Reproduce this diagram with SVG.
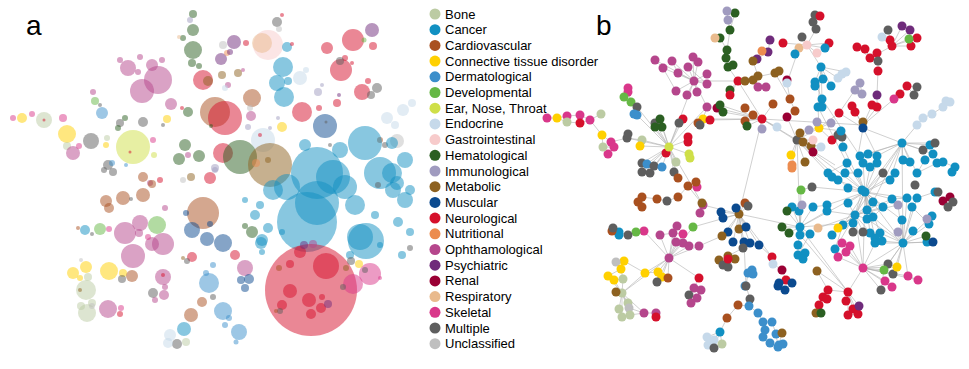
<svg xmlns="http://www.w3.org/2000/svg" width="969" height="369" viewBox="0 0 969 369">
<style>
.bo{fill:#bccba3}.ca{fill:#1190c2}.cv{fill:#a9501f}.ct{fill:#ffd000}.de{fill:#3c8fcb}.dv{fill:#66b845}.en{fill:#cfdf48}.ed{fill:#c6d9ea}.gi{fill:#f7cbcb}.he{fill:#2b5f22}.im{fill:#a09bbf}.me{fill:#8d6120}.mu{fill:#0b4a8f}.ne{fill:#d5102b}.nu{fill:#ec8c4f}.op{fill:#b5468c}.ps{fill:#6f2b7b}.re{fill:#9a0034}.rs{fill:#e9ba8d}.sk{fill:#d9378a}.mp{fill:#5e5e5e}.un{fill:#bfbfbf}
#panel-a circle{fill-opacity:.5}
.lbl{font-family:"Liberation Sans",Arial,sans-serif;font-size:28px;fill:#000}
.lg{font-family:"Liberation Sans",Arial,sans-serif;font-size:13px;fill:#000}
#connectors path{fill:none;stroke:#b0b0b0;stroke-width:.6}
</style>
<rect width="969" height="369" fill="#fff"/>
<text class="lbl" x="26" y="35">a</text>
<text class="lbl" x="596" y="35">b</text>

<g id="panel-a">
<circle class="he" cx="193" cy="14" r="4"/><circle class="im" cx="190" cy="20" r="3"/><circle class="he" cx="193" cy="30" r="6"/><circle class="he" cx="193" cy="50" r="9"/><circle class="he" cx="192" cy="63" r="4"/><circle class="he" cx="199" cy="66" r="3"/><circle class="he" cx="183" cy="38" r="3"/><circle class="rs" cx="179" cy="37" r="2"/>
<circle class="ne" cx="203" cy="80" r="10"/><circle class="me" cx="208" cy="81" r="5"/>
<circle class="op" cx="128" cy="68" r="8"/><circle class="op" cx="158" cy="80" r="14"/><circle class="op" cx="142" cy="91" r="12"/><circle class="op" cx="152" cy="65" r="6"/><circle class="op" cx="120" cy="60" r="3"/><circle class="op" cx="140" cy="57" r="3"/><circle class="op" cx="162" cy="60" r="3"/><circle class="op" cx="138" cy="72" r="3"/><circle class="op" cx="171" cy="104" r="6"/><circle class="ne" cx="182" cy="108" r="2"/><circle class="he" cx="188" cy="112" r="5"/>
<circle class="sk" cx="13" cy="118" r="3"/><circle class="ct" cx="22" cy="118" r="5"/><circle class="sk" cx="32" cy="114" r="3"/><circle class="bo" cx="44" cy="120" r="8"/><circle class="ne" cx="44" cy="120" r="1.5"/><circle class="sk" cx="63" cy="118" r="4"/><circle class="ct" cx="67" cy="134" r="9"/><circle class="bo" cx="67" cy="146" r="4"/><circle class="op" cx="73" cy="153" r="7"/><circle class="sk" cx="79" cy="146" r="3"/><circle class="mp" cx="91" cy="141" r="8"/><circle class="bo" cx="107" cy="138" r="3"/><circle class="ct" cx="106" cy="145" r="3"/><circle class="en" cx="133" cy="147" r="17"/><circle class="ne" cx="130" cy="152" r="1.5"/><circle class="sk" cx="153" cy="140" r="3"/><circle class="en" cx="154" cy="155" r="3"/>
<circle class="de" cx="102" cy="113" r="6"/><circle class="dv" cx="95" cy="101" r="4"/><circle class="op" cx="93" cy="92" r="3"/><circle class="mp" cx="100" cy="105" r="2"/>
<circle class="mp" cx="143" cy="122" r="5"/><circle class="mp" cx="120" cy="123" r="4"/><circle class="he" cx="125" cy="118" r="3"/><circle class="he" cx="118" cy="128" r="3"/><circle class="ct" cx="167" cy="119" r="4"/><circle class="mp" cx="163" cy="125" r="2"/>
<circle class="he" cx="185" cy="145" r="6"/><circle class="he" cx="179" cy="159" r="6"/><circle class="he" cx="199" cy="156" r="6"/><circle class="op" cx="188" cy="155" r="3"/>
<circle class="mp" cx="108" cy="165" r="5"/><circle class="mp" cx="113" cy="172" r="4"/><circle class="mp" cx="104" cy="170" r="3"/><circle class="de" cx="112" cy="163" r="3"/><circle class="de" cx="126" cy="165" r="2"/>
<circle class="cv" cx="143" cy="177" r="5"/><circle class="op" cx="150" cy="183" r="3"/><circle class="ne" cx="160" cy="180" r="3"/>
<circle class="me" cx="191" cy="177" r="4"/><circle class="un" cx="183" cy="180" r="3"/><circle class="ne" cx="210" cy="178" r="6"/><circle class="im" cx="215" cy="170" r="3"/>
<circle class="mp" cx="277" cy="22" r="5"/><circle class="ne" cx="282" cy="15" r="2"/><circle class="un" cx="279" cy="29" r="3"/><circle class="ps" cx="234" cy="42" r="7"/><circle class="ps" cx="221" cy="59" r="6"/><circle class="nu" cx="227" cy="53" r="3"/><circle class="un" cx="223" cy="45" r="4"/><circle class="ps" cx="230" cy="52" r="3"/><circle class="ne" cx="246" cy="43" r="3"/>
<circle class="gi" cx="268" cy="45" r="15"/><circle class="rs" cx="262" cy="43" r="10"/><circle class="ca" cx="287" cy="47" r="5"/><circle class="ne" cx="292" cy="44" r="2"/>
<circle class="ca" cx="283" cy="67" r="10"/><circle class="ca" cx="277" cy="83" r="8"/><circle class="ca" cx="284" cy="97" r="10"/><circle class="ca" cx="288" cy="81" r="4"/><circle class="ed" cx="300" cy="78" r="7"/><circle class="ed" cx="306" cy="70" r="3"/>
<circle class="ne" cx="327" cy="48" r="6"/><circle class="ne" cx="353" cy="40" r="11"/><circle class="ne" cx="373" cy="46" r="4"/><circle class="ps" cx="372" cy="30" r="7"/><circle class="dv" cx="364" cy="40" r="2.5"/><circle class="ne" cx="345" cy="58" r="3"/><circle class="ne" cx="352" cy="63" r="2"/>
<circle class="ne" cx="341" cy="70" r="11"/><circle class="mp" cx="340" cy="61" r="4"/>
<circle class="ne" cx="362" cy="92" r="8"/><circle class="mp" cx="377" cy="88" r="5"/><circle class="mp" cx="371" cy="95" r="4"/><circle class="ne" cx="368" cy="81" r="3"/>
<circle class="im" cx="318" cy="92" r="4"/><circle class="im" cx="322" cy="85" r="2"/><circle class="ne" cx="337" cy="103" r="4"/><circle class="ps" cx="339" cy="95" r="2"/>
<circle class="ne" cx="302" cy="112" r="10"/><circle class="ne" cx="319" cy="108" r="3"/>
<circle class="mu" cx="325" cy="126" r="12"/><circle class="mp" cx="326" cy="122" r="1.5"/>
<circle class="cv" cx="252" cy="98" r="9"/><circle class="op" cx="251" cy="116" r="5"/><circle class="me" cx="222" cy="75" r="4"/><circle class="me" cx="238" cy="73" r="4"/><circle class="op" cx="243" cy="70" r="2"/><circle class="op" cx="228" cy="85" r="3"/><circle class="ed" cx="225" cy="88" r="3"/>
<circle class="ct" cx="282" cy="127" r="5"/><circle class="im" cx="278" cy="118" r="2"/><circle class="im" cx="270" cy="128" r="2"/><circle class="un" cx="250" cy="108" r="3"/><circle class="im" cx="248" cy="127" r="3"/>
<circle class="ed" cx="387" cy="118" r="6"/><circle class="ed" cx="403" cy="110" r="6"/><circle class="ed" cx="412" cy="103" r="4"/><circle class="ed" cx="395" cy="125" r="4"/><circle class="un" cx="397" cy="141" r="7"/><circle class="cv" cx="380" cy="140" r="3"/><circle class="mp" cx="385" cy="145" r="3"/>
<circle class="cv" cx="215" cy="112" r="15"/><circle class="ne" cx="225" cy="118" r="17"/><circle class="he" cx="211" cy="126" r="2"/>
<circle class="ne" cx="223" cy="153" r="10"/><circle class="im" cx="215" cy="168" r="4"/>
<circle class="ed" cx="263" cy="140" r="12"/><circle class="ne" cx="260" cy="135" r="2"/>
<circle class="he" cx="240" cy="157" r="17"/><circle class="me" cx="270" cy="165" r="22"/><circle class="nu" cx="256" cy="163" r="4"/><circle class="me" cx="268" cy="160" r="3"/>
<circle class="ca" cx="365" cy="143" r="17"/><circle class="ca" cx="380" cy="173" r="16"/><circle class="ca" cx="317" cy="173" r="26"/><circle class="ca" cx="333" cy="177" r="17"/><circle class="ca" cx="307" cy="222" r="30"/><circle class="ca" cx="317" cy="203" r="22"/><circle class="ca" cx="273" cy="190" r="10"/><circle class="ca" cx="287" cy="187" r="13"/><circle class="ca" cx="397" cy="183" r="7"/><circle class="ca" cx="392" cy="173" r="10"/><circle class="ca" cx="360" cy="237" r="13"/><circle class="ca" cx="405" cy="160" r="8"/><circle class="ca" cx="305" cy="145" r="6"/><circle class="ca" cx="345" cy="187" r="12"/><circle class="ca" cx="393" cy="190" r="8"/><circle class="ca" cx="366" cy="241" r="18"/><circle class="ca" cx="392" cy="143" r="6"/><circle class="ca" cx="405" cy="200" r="8"/><circle class="ca" cx="410" cy="190" r="5"/><circle class="ca" cx="340" cy="150" r="8"/><circle class="ca" cx="355" cy="205" r="10"/>
<circle class="ca" cx="260" cy="205" r="4"/><circle class="ca" cx="255" cy="215" r="5"/><circle class="ca" cx="262" cy="240" r="6"/><circle class="ca" cx="268" cy="228" r="5"/><circle class="ca" cx="245" cy="200" r="3"/><circle class="ca" cx="282" cy="232" r="3"/><circle class="ca" cx="350" cy="255" r="4"/><circle class="ca" cx="375" cy="215" r="4"/><circle class="ca" cx="398" cy="222" r="5"/><circle class="ca" cx="410" cy="232" r="4"/><circle class="ca" cx="380" cy="245" r="3"/><circle class="ca" cx="402" cy="255" r="4"/><circle class="mp" cx="410" cy="248" r="3"/><circle class="mp" cx="378" cy="185" r="3"/><circle class="mp" cx="330" cy="145" r="2"/>
<circle class="ne" cx="311" cy="290" r="46"/><circle class="ne" cx="326" cy="266" r="13"/><circle class="ne" cx="300" cy="252" r="6"/><circle class="ne" cx="290" cy="264" r="4"/><circle class="ps" cx="304" cy="245" r="4"/><circle class="op" cx="313" cy="244" r="4"/><circle class="ne" cx="290" cy="291" r="7"/><circle class="ne" cx="282" cy="305" r="5"/><circle class="ne" cx="309" cy="300" r="7"/><circle class="ne" cx="321" cy="308" r="5"/><circle class="ne" cx="311" cy="314" r="5"/><circle class="ne" cx="322" cy="297" r="3"/><circle class="mp" cx="280" cy="311" r="3"/><circle class="cv" cx="276" cy="311" r="2"/><circle class="ps" cx="328" cy="304" r="4"/><circle class="cv" cx="279" cy="268" r="3"/>
<circle class="sk" cx="370" cy="274" r="11"/><circle class="sk" cx="353" cy="284" r="10"/><circle class="mp" cx="351" cy="261" r="4"/><circle class="me" cx="346" cy="268" r="3"/><circle class="ct" cx="359" cy="264" r="4"/><circle class="mp" cx="365" cy="270" r="3"/><circle class="mp" cx="343" cy="287" r="3"/><circle class="sk" cx="380" cy="278" r="2"/>
<circle class="de" cx="209" cy="283" r="10"/><circle class="de" cx="223" cy="311" r="9"/><circle class="de" cx="239" cy="332" r="8"/><circle class="de" cx="213" cy="265" r="3"/><circle class="de" cx="206" cy="273" r="3"/><circle class="de" cx="229" cy="318" r="3"/><circle class="de" cx="236" cy="342" r="2.5"/><circle class="mp" cx="213" cy="297" r="3"/><circle class="de" cx="225" cy="325" r="3"/>
<circle class="mu" cx="223" cy="243" r="9"/><circle class="op" cx="245" cy="268" r="8"/><circle class="ne" cx="235" cy="255" r="5"/><circle class="he" cx="252" cy="232" r="6"/><circle class="ca" cx="261" cy="243" r="6"/><circle class="mu" cx="241" cy="280" r="4"/><circle class="mu" cx="249" cy="279" r="5"/><circle class="mu" cx="245" cy="288" r="4"/><circle class="he" cx="245" cy="226" r="3"/><circle class="ca" cx="262" cy="252" r="3"/>
<circle class="cv" cx="123" cy="198" r="7"/><circle class="cv" cx="143" cy="195" r="7"/><circle class="cv" cx="106" cy="201" r="6"/><circle class="cv" cx="152" cy="184" r="4"/><circle class="cv" cx="109" cy="208" r="5"/><circle class="mp" cx="131" cy="199" r="2"/>
<circle class="cv" cx="203" cy="213" r="16"/><circle class="mu" cx="192" cy="230" r="8"/><circle class="mu" cx="207" cy="239" r="7"/><circle class="mu" cx="186" cy="213" r="3"/><circle class="mu" cx="210" cy="224" r="3"/>
<circle class="op" cx="125" cy="233" r="11"/><circle class="op" cx="140" cy="223" r="8"/><circle class="dv" cx="157" cy="225" r="9"/><circle class="op" cx="133" cy="256" r="12"/><circle class="op" cx="163" cy="244" r="11"/><circle class="op" cx="152" cy="244" r="7"/><circle class="op" cx="139" cy="233" r="4"/><circle class="sk" cx="148" cy="237" r="3"/><circle class="op" cx="165" cy="208" r="3"/>
<circle class="ca" cx="85" cy="230" r="5"/><circle class="dv" cx="100" cy="229" r="6"/><circle class="sk" cx="109" cy="229" r="3"/><circle class="cv" cx="78" cy="228" r="2"/><circle class="mp" cx="92" cy="234" r="2"/>
<circle class="ct" cx="86" cy="267" r="6"/><circle class="ct" cx="73" cy="273" r="6"/><circle class="ct" cx="109" cy="271" r="9"/><circle class="un" cx="81" cy="260" r="2"/><circle class="ct" cx="80" cy="278" r="3"/><circle class="ct" cx="123" cy="273" r="4"/><circle class="mp" cx="122" cy="279" r="4"/><circle class="cv" cx="132" cy="276" r="6"/>
<circle class="bo" cx="86" cy="290" r="10"/><circle class="bo" cx="87" cy="313" r="9"/><circle class="bo" cx="81" cy="306" r="4"/><circle class="bo" cx="92" cy="303" r="4"/><circle class="un" cx="92" cy="306" r="3"/><circle class="me" cx="80" cy="290" r="2"/><circle class="bo" cx="88" cy="277" r="4"/>
<circle class="op" cx="108" cy="309" r="9"/><circle class="ne" cx="120" cy="314" r="3"/><circle class="sk" cx="121" cy="308" r="3"/>
<circle class="op" cx="163" cy="277" r="8"/><circle class="op" cx="164" cy="295" r="5"/><circle class="mp" cx="153" cy="293" r="5"/><circle class="op" cx="155" cy="300" r="3"/><circle class="ne" cx="163" cy="275" r="2"/><circle class="op" cx="165" cy="287" r="3"/>
<circle class="ne" cx="192" cy="257" r="5"/><circle class="mp" cx="187" cy="261" r="3"/><circle class="me" cx="183" cy="258" r="2"/>
<circle class="cv" cx="191" cy="315" r="7"/><circle class="cv" cx="202" cy="302" r="5"/>
<circle class="ca" cx="184" cy="329" r="7"/><circle class="ed" cx="170" cy="335" r="6"/><circle class="mp" cx="177" cy="344" r="5"/><circle class="ed" cx="168" cy="343" r="5"/><circle class="bo" cx="186" cy="342" r="4"/>
</g>

<g id="legend">
<circle class="bo" cx="435" cy="14" r="5.5"/><text class="lg" x="445" y="18.5">Bone</text>
<circle class="ca" cx="435" cy="29.7" r="5.5"/><text class="lg" x="445" y="34.2">Cancer</text>
<circle class="cv" cx="435" cy="45.4" r="5.5"/><text class="lg" x="445" y="49.9">Cardiovascular</text>
<circle class="ct" cx="435" cy="61.1" r="5.5"/><text class="lg" x="445" y="65.6">Connective tissue disorder</text>
<circle class="de" cx="435" cy="76.8" r="5.5"/><text class="lg" x="445" y="81.3">Dermatological</text>
<circle class="dv" cx="435" cy="92.5" r="5.5"/><text class="lg" x="445" y="97">Developmental</text>
<circle class="en" cx="435" cy="108.2" r="5.5"/><text class="lg" x="445" y="112.7">Ear, Nose, Throat</text>
<circle class="ed" cx="435" cy="123.9" r="5.5"/><text class="lg" x="445" y="128.4">Endocrine</text>
<circle class="gi" cx="435" cy="139.6" r="5.5"/><text class="lg" x="445" y="144.1">Gastrointestinal</text>
<circle class="he" cx="435" cy="155.3" r="5.5"/><text class="lg" x="445" y="159.8">Hematological</text>
<circle class="im" cx="435" cy="171" r="5.5"/><text class="lg" x="445" y="175.5">Immunological</text>
<circle class="me" cx="435" cy="186.7" r="5.5"/><text class="lg" x="445" y="191.2">Metabolic</text>
<circle class="mu" cx="435" cy="202.4" r="5.5"/><text class="lg" x="445" y="206.9">Muscular</text>
<circle class="ne" cx="435" cy="218.1" r="5.5"/><text class="lg" x="445" y="222.6">Neurological</text>
<circle class="nu" cx="435" cy="233.8" r="5.5"/><text class="lg" x="445" y="238.3">Nutritional</text>
<circle class="op" cx="435" cy="249.5" r="5.5"/><text class="lg" x="445" y="254">Ophthamological</text>
<circle class="ps" cx="435" cy="265.2" r="5.5"/><text class="lg" x="445" y="269.7">Psychiatric</text>
<circle class="re" cx="435" cy="280.9" r="5.5"/><text class="lg" x="445" y="285.4">Renal</text>
<circle class="rs" cx="435" cy="296.6" r="5.5"/><text class="lg" x="445" y="301.1">Respiratory</text>
<circle class="sk" cx="435" cy="312.3" r="5.5"/><text class="lg" x="445" y="316.8">Skeletal</text>
<circle class="mp" cx="435" cy="328" r="5.5"/><text class="lg" x="445" y="332.5">Multiple</text>
<circle class="un" cx="435" cy="343.7" r="5.5"/><text class="lg" x="445" y="348.2">Unclassified</text>
</g>

<g id="connectors">
<path d="M694 81L655 60M694 81L663 68M694 81L672 61M694 81L678 73M694 81L688 67M694 81L693 57M694 81L698 62M694 81L707 74M694 81L707 84M694 81L676 91M694 81L687 95M694 81L697 92M694 81L707 107M694 81L738 81M694 81L669 147M655 60L663 68M672 61L678 73M663 68L676 91M688 67L707 84"/>
<path d="M738 81L745 81M738 81L753 80M738 81L758 76M738 81L775 73M738 81L730 90M738 81L730 95M738 81L728 67M738 81L762 119M728 67L726 58L727 50L730 30L728 20L727 11M730 30L735 13M727 50L720 38L715 38M733 65L728 67M758 76L753 61L757 59L768 52L770 40M757 59L762 51M753 80L758 87L766 87"/>
<path d="M762 119L745 108M762 119L753 115M762 119L745 121M762 119L747 126M762 119L773 104M762 119L762 129M762 119L777 127M762 119L717 108M762 119L723 112M762 119L720 105M762 119L710 120M762 119L703 119M762 119L797 140M762 119L835 165M762 119L739 214M762 119L863 125M703 119L698 123L700 125L710 120M707 107L703 119"/>
<path d="M669 147L666 153M669 147L655 123M669 147L660 119M669 147L662 127M669 147L655 127M669 147L683 119M669 147L679 123M669 147L688 140M669 147L689 154M669 147L676 162M669 147L642 163M669 147L647 164M669 147L654 166M669 147L662 167M669 147L642 172M669 147L650 173M669 147L674 172M669 147L678 178M669 147L642 140M669 147L640 146M669 147L627 138M669 147L637 107M669 147L637 115M669 147L703 205M669 147L707 107M642 163L642 172L650 173L654 166M628 90L624 97L631 102L637 107L637 115M628 90L631 102M547 118L557 118L567 116L580 115L590 120L601 114M567 122L580 123L590 120M557 118L567 122M590 120L602 135L611 142L627 138M602 135L603 147L608 154L614 147L611 142M603 147L610 147M627 138L642 140"/>
<path d="M807 45L816 29M807 45L802 37M807 45L783 43M807 45L799 48M807 45L817 53M807 45L829 43M807 45L825 48M807 45L795 54M807 45L821 67M816 29L813 22L815 15L820 16M799 48L787 83L787 80M787 83L790 99L795 111L787 117M790 99L775 73M821 67L815 82M821 67L823 79M821 67L831 86M821 67L838 78M821 67L846 72M821 67L822 99M821 67L818 107M838 78L846 72M818 107L819 128M815 82L822 99L818 107"/>
<path d="M870 58L857 47M870 58L865 49M870 58L877 53M870 58L878 61M870 58L892 46M878 61L878 71L877 95M892 46L890 40L882 37M892 46L888 30M892 46L902 26M892 46L910 30M892 46L909 39M892 46L917 38M892 46L911 46M910 30L909 39M902 26L910 30M860 83L855 90L862 94L860 83M855 90L839 113M863 125L852 106M863 125L855 112M863 125L872 105M863 125L877 107M877 107L877 95M894 99L900 94L907 86L917 87L914 95L907 86M894 99L863 125M950 102L943 107L932 114L923 118L917 125L902 143M863 128L902 143M863 128L858 156M863 128L839 113M863 128L877 156M819 128L817 122M819 128L809 130M819 128L831 123M819 128L839 113M819 128L797 140M819 128L832 140M819 128L841 131M838 135L842 137L843 147"/>
<path d="M797 140L800 133M797 140L803 142M797 140L791 155M797 140L792 165M797 140L805 162M797 140L813 152M797 140L811 146M797 140L813 140M797 140L821 147M797 140L787 117M797 140L828 173M797 140L800 227M797 140L865 192M797 140L848 188"/>
<path d="M902 143L868 154M902 143L877 156M902 143L903 160M902 143L910 162M902 143L923 150M902 143L930 145M902 143L935 143M902 143L933 154M902 143L917 173M902 143L890 180M902 143L860 156M902 143L865 192M902 143L903 243M902 143L873 202M902 143L855 215M865 192L848 188M865 192L862 190M865 192L873 202M865 192L883 207M865 192L892 199M865 192L855 215M865 192L867 210M865 192L867 219M865 192L873 217M865 192L877 163M865 192L870 167M865 192L858 173M865 192L845 173M865 192L838 180M865 192L883 173M865 192L890 180M865 192L895 173M865 192L853 223M865 192L848 203M865 192L843 225M865 192L827 205M865 192L812 187M865 192L903 243M865 192L875 238M865 192L880 233M865 192L870 233M865 192L863 268M865 192L800 227M865 192L847 163M865 192L863 163M865 192L907 198M865 192L902 220M818 107L847 163M822 99L860 156M843 147L865 192M868 154L877 156M863 163L870 167M847 163L845 173L858 173M828 173L832 177L838 180M828 173L847 163"/>
<path d="M903 243L902 220M903 243L913 231M903 243L927 242M903 243L929 224M903 243L932 216M903 243L898 232M903 243L875 243M903 243L882 241M903 243L880 233M903 243L933 242M903 243L926 236M903 243L863 268M903 243L884 270M903 243L888 264M903 243L893 274M903 243L897 267M903 243L908 276M903 243L917 198M903 243L907 198M903 243L912 207M903 243L898 205M903 243L873 217M903 243L867 219M855 215L848 203M855 215L853 223M855 215L843 225M855 215L832 235M855 215L853 232M855 215L863 232M855 215L835 249M855 215L838 228M855 215L827 211M855 215L818 228M855 215L862 190M855 215L867 219M855 215L875 238M855 215L873 202M855 215L892 199M855 215L883 207M855 215L898 205M800 227L799 211M800 227L792 207M800 227L802 205M800 227L801 190M800 227L787 211M800 227L782 227M800 227L789 233M800 227L800 235M800 227L810 234M800 227L798 245M800 227L813 207M800 227L827 211M800 227L848 292M800 227L853 223M798 255L798 245M798 255L805 253M798 255L803 259M798 255L810 234M917 198L935 192L938 192M943 201L950 197L953 202L948 207L943 201M935 192L943 201M952 172L955 167L943 162L937 163M925 160L933 154M917 173L925 160M930 145L935 143M937 163L917 173M912 207L929 224M932 216L929 224M883 207L892 199L907 198M873 217L883 207M870 233L880 233L875 243M835 249L843 225M813 207L827 205L827 211M812 187L801 190"/>
<path d="M863 268L842 243M863 268L850 246M863 268L846 252M863 268L838 257M863 268L885 281M863 268L892 287M863 268L908 276M863 268L918 280M863 268L888 264M863 268L893 274M863 268L881 290M863 268L884 270M863 268L897 267M863 268L848 292M863 268L855 215M863 268L875 243M842 243L850 246L846 252L838 257M908 276L918 280M888 264L897 267M884 270L881 290M848 292L846 301M848 292L853 309M848 292L848 315M848 292L858 314M848 292L859 306M848 292L828 290M848 292L817 271M848 292L800 235M828 290L823 297L827 299L819 305L816 313M819 305L821 313M828 290L817 271M853 309L859 306M848 315L858 314"/>
<path d="M772 257L773 264L782 270L786 280L779 283L778 286L785 290L792 283L786 280M772 257L759 245M752 270L748 273L753 274L752 270M748 273L746 286L750 299L749 306L738 305L727 318L720 332L714 340M720 332L707 337M720 332L708 345M720 332L722 344M720 332L714 348M714 340L707 337M749 306L758 313L763 322L765 330L763 337L770 343L778 347L776 334L772 322L763 322M746 286L744 242M776 334L782 333L779 345L783 344"/>
<path d="M739 214L721 212M739 214L723 218M739 214L736 208M739 214L745 203M739 214L748 206M739 214L728 232M739 214L722 236M739 214L739 229M739 214L746 227M739 214L733 242M739 214L744 242M739 214L750 243M739 214L759 245M739 214L743 248M739 214L703 205M739 214L800 227M739 214L772 257M703 205L700 213L702 208L703 205M703 205L688 186L697 187L696 182L688 186M688 186L678 197L667 201L657 199L642 197L638 202L642 207L642 197M743 248L728 256L719 260L723 265L728 267L735 259L728 256M721 212L723 218"/>
<path d="M669 258L660 235M669 258L673 233M669 258L683 234M669 258L677 226M669 258L676 242M669 258L683 243M669 258L689 246M669 258L699 246M669 258L693 227M669 258L644 231M669 258L645 273M669 258L658 272M669 258L662 277M669 258L668 278M669 258L657 282M669 258L699 278M669 258L622 293M699 246L722 236M693 227L739 214M660 235L673 233L683 234M677 226L683 234M676 242L689 246M644 231L636 232L628 235L619 232L613 228L612 231L619 235M699 278L694 288L701 290L697 298L691 303L689 295L694 288M624 261L616 262L621 269L624 261M621 269L608 276L614 280L623 279L621 269M614 280L622 293M645 273L658 272L662 277L668 278L657 282L658 272M624 261L645 273M622 293L616 292M622 293L628 303M622 293L629 308M622 293L619 309M622 293L622 317M622 293L630 315M622 293L644 313M622 293L623 279M622 293L608 276M622 293L645 273M644 313L656 313L656 317M629 308L644 313M630 315L644 313M619 309L622 317"/>
</g>

<g id="network-nodes">
<g id="cluster-ophthalmological-top">
<circle class="op" cx="655" cy="60" r="4.5"/><circle class="op" cx="663" cy="68" r="4.5"/><circle class="op" cx="672" cy="61" r="4.5"/><circle class="op" cx="678" cy="73" r="4.5"/><circle class="op" cx="688" cy="67" r="4.5"/><circle class="op" cx="693" cy="57" r="4.5"/><circle class="op" cx="698" cy="62" r="4.5"/><circle class="op" cx="707" cy="74" r="4.5"/><circle class="op" cx="707" cy="84" r="4.5"/><circle class="op" cx="676" cy="91" r="4.5"/><circle class="op" cx="687" cy="95" r="4.5"/><circle class="op" cx="697" cy="92" r="4.5"/><circle class="op" cx="707" cy="107" r="4.5"/><circle class="op" cx="694" cy="81" r="4.5"/>
</g>
<g id="cluster-red-hub-1">
<circle class="ne" cx="738" cy="81" r="4.5"/><circle class="me" cx="745" cy="81" r="4.5"/><circle class="me" cx="753" cy="80" r="4.5"/><circle class="me" cx="758" cy="76" r="4.5"/><circle class="me" cx="775" cy="73" r="4.5"/><circle class="me" cx="779" cy="71" r="4.5"/><circle class="he" cx="730" cy="90" r="4.5"/><circle class="ne" cx="730" cy="95" r="4.5"/>
<circle class="he" cx="728" cy="67" r="4.5"/><circle class="he" cx="726" cy="58" r="4.5"/><circle class="he" cx="733" cy="65" r="4.5"/><circle class="he" cx="727" cy="50" r="4.5"/><circle class="he" cx="730" cy="30" r="4.5"/><circle class="he" cx="735" cy="13" r="4.5"/><circle class="he" cx="720" cy="38" r="4.5"/><circle class="im" cx="728" cy="20" r="4.5"/><circle class="im" cx="727" cy="11" r="4.5"/><circle class="rs" cx="715" cy="38" r="4.5"/>
<circle class="ps" cx="770" cy="40" r="4.5"/><circle class="ps" cx="768" cy="52" r="4.5"/><circle class="ps" cx="757" cy="59" r="4.5"/><circle class="nu" cx="762" cy="51" r="4.5"/><circle class="me" cx="753" cy="61" r="4.5"/><circle class="op" cx="758" cy="87" r="4.5"/><circle class="op" cx="766" cy="87" r="4.5"/>
</g>
<g id="cluster-red-hub-2">
<circle class="ne" cx="762" cy="119" r="4.5"/><circle class="cv" cx="745" cy="108" r="4.5"/><circle class="cv" cx="753" cy="115" r="4.5"/><circle class="cv" cx="745" cy="121" r="4.5"/><circle class="cv" cx="773" cy="104" r="4.5"/><circle class="he" cx="747" cy="126" r="4.5"/><circle class="im" cx="762" cy="129" r="4.5"/><circle class="ed" cx="777" cy="127" r="4.5"/><circle class="re" cx="717" cy="108" r="4.5"/><circle class="he" cx="723" cy="112" r="4.5"/><circle class="he" cx="720" cy="105" r="4.5"/>
<circle class="ct" cx="703" cy="119" r="4.5"/><circle class="ne" cx="710" cy="120" r="4.5"/><circle class="cv" cx="698" cy="123" r="4.5"/><circle class="mp" cx="700" cy="125" r="4.5"/>
</g>
<g id="cluster-ent">
<circle class="ne" cx="666" cy="153" r="4.5"/><circle class="mp" cx="655" cy="123" r="4.5"/><circle class="he" cx="660" cy="119" r="4.5"/><circle class="he" cx="662" cy="127" r="4.5"/><circle class="he" cx="655" cy="127" r="4.5"/><circle class="ne" cx="683" cy="119" r="4.5"/><circle class="mp" cx="679" cy="123" r="4.5"/><circle class="ne" cx="688" cy="137" r="4.5"/><circle class="ne" cx="688" cy="142" r="4.5"/><circle class="en" cx="689" cy="154" r="4.5"/><circle class="en" cx="690" cy="158" r="4.5"/><circle class="bo" cx="676" cy="162" r="4.5"/><circle class="mp" cx="642" cy="163" r="4.5"/><circle class="de" cx="647" cy="164" r="4.5"/><circle class="mp" cx="654" cy="166" r="4.5"/><circle class="de" cx="662" cy="167" r="4.5"/><circle class="mp" cx="642" cy="172" r="4.5"/><circle class="mp" cx="650" cy="173" r="4.5"/><circle class="mp" cx="674" cy="172" r="4.5"/><circle class="cv" cx="678" cy="178" r="4.5"/><circle class="bo" cx="642" cy="140" r="4.5"/><circle class="ct" cx="640" cy="146" r="4.5"/><circle class="mp" cx="627" cy="138" r="4.5"/><circle class="mp" cx="628" cy="134" r="4.5"/><circle class="en" cx="669" cy="147" r="4.5"/>
<circle class="sk" cx="628" cy="88" r="4.5"/><circle class="sk" cx="628" cy="92" r="4.5"/><circle class="dv" cx="624" cy="97" r="4.5"/><circle class="dv" cx="631" cy="102" r="4.5"/><circle class="mp" cx="637" cy="107" r="4.5"/><circle class="de" cx="637" cy="115" r="4.5"/><circle class="de" cx="634" cy="114" r="4.5"/>
<circle class="sk" cx="547" cy="118" r="4.5"/><circle class="ct" cx="557" cy="118" r="4.5"/><circle class="sk" cx="567" cy="116" r="4.5"/><circle class="bo" cx="567" cy="122" r="4.5"/><circle class="sk" cx="580" cy="115" r="4.5"/><circle class="ne" cx="580" cy="123" r="4.5"/><circle class="sk" cx="590" cy="120" r="4.5"/><circle class="bo" cx="601" cy="114" r="4.5"/><circle class="ct" cx="602" cy="135" r="4.5"/><circle class="sk" cx="611" cy="142" r="4.5"/><circle class="sk" cx="614" cy="147" r="4.5"/><circle class="sk" cx="608" cy="154" r="4.5"/><circle class="bo" cx="603" cy="147" r="4.5"/>
</g>
<g id="cluster-top-right">
<circle class="mp" cx="815" cy="15" r="4.5"/><circle class="ne" cx="820" cy="16" r="4.5"/><circle class="mp" cx="813" cy="22" r="4.5"/><circle class="mp" cx="816" cy="29" r="4.5"/><circle class="mp" cx="802" cy="37" r="4.5"/><circle class="ne" cx="783" cy="43" r="4.5"/><circle class="ne" cx="829" cy="43" r="4.5"/><circle class="rs" cx="799" cy="48" r="4.5"/><circle class="gi" cx="807" cy="45" r="4.5"/><circle class="gi" cx="817" cy="53" r="4.5"/><circle class="ca" cx="825" cy="48" r="4.5"/><circle class="ca" cx="795" cy="54" r="4.5"/>
<circle class="ca" cx="821" cy="67" r="4.5"/><circle class="ca" cx="815" cy="82" r="4.5"/><circle class="ca" cx="815" cy="86" r="4.5"/><circle class="ca" cx="823" cy="79" r="4.5"/><circle class="ca" cx="831" cy="86" r="4.5"/><circle class="ca" cx="822" cy="99" r="4.5"/><circle class="ca" cx="818" cy="107" r="4.5"/><circle class="ca" cx="822" cy="107" r="4.5"/><circle class="ed" cx="838" cy="78" r="4.5"/><circle class="ed" cx="846" cy="72" r="4.5"/><circle class="ed" cx="842" cy="74" r="4.5"/>
<circle class="ne" cx="857" cy="47" r="4.5"/><circle class="ne" cx="865" cy="49" r="4.5"/><circle class="ne" cx="870" cy="58" r="4.5"/><circle class="ne" cx="877" cy="53" r="4.5"/><circle class="ne" cx="878" cy="71" r="4.5"/><circle class="ne" cx="890" cy="40" r="4.5"/><circle class="ne" cx="892" cy="46" r="4.5"/><circle class="ne" cx="917" cy="38" r="4.5"/><circle class="ne" cx="911" cy="46" r="4.5"/><circle class="mp" cx="878" cy="61" r="4.5"/><circle class="mp" cx="888" cy="30" r="4.5"/><circle class="ed" cx="882" cy="37" r="4.5"/><circle class="ps" cx="902" cy="26" r="4.5"/><circle class="ps" cx="910" cy="30" r="4.5"/><circle class="dv" cx="909" cy="39" r="4.5"/>
<circle class="im" cx="860" cy="83" r="4.5"/><circle class="im" cx="855" cy="90" r="4.5"/><circle class="im" cx="862" cy="94" r="4.5"/>
<circle class="ne" cx="852" cy="106" r="4.5"/><circle class="ne" cx="855" cy="112" r="4.5"/><circle class="ne" cx="872" cy="105" r="4.5"/><circle class="ne" cx="877" cy="107" r="4.5"/><circle class="ne" cx="900" cy="94" r="4.5"/><circle class="ne" cx="907" cy="86" r="4.5"/><circle class="ps" cx="877" cy="95" r="4.5"/><circle class="sk" cx="894" cy="99" r="4.5"/><circle class="mp" cx="917" cy="87" r="4.5"/><circle class="mp" cx="914" cy="95" r="4.5"/>
<circle class="ed" cx="950" cy="102" r="4.5"/><circle class="ed" cx="946" cy="101" r="4.5"/><circle class="ed" cx="943" cy="107" r="4.5"/><circle class="ed" cx="932" cy="114" r="4.5"/><circle class="ed" cx="923" cy="118" r="4.5"/><circle class="ed" cx="917" cy="125" r="4.5"/>
<circle class="me" cx="863" cy="122" r="4.5"/><circle class="mu" cx="863" cy="128" r="4.5"/>
<circle class="ct" cx="819" cy="128" r="4.5"/><circle class="im" cx="817" cy="122" r="4.5"/><circle class="im" cx="809" cy="130" r="4.5"/><circle class="im" cx="831" cy="123" r="4.5"/><circle class="ne" cx="839" cy="113" r="4.5"/><circle class="ne" cx="832" cy="140" r="4.5"/><circle class="mp" cx="838" cy="135" r="4.5"/><circle class="mp" cx="842" cy="137" r="4.5"/><circle class="ca" cx="843" cy="147" r="4.5"/><circle class="ca" cx="841" cy="131" r="4.5"/>
</g>
<g id="cluster-multiple-hub">
<circle class="mp" cx="797" cy="140" r="4.5"/><circle class="me" cx="800" cy="133" r="4.5"/><circle class="me" cx="803" cy="142" r="4.5"/><circle class="me" cx="805" cy="162" r="4.5"/><circle class="me" cx="811" cy="146" r="4.5"/><circle class="ct" cx="791" cy="155" r="4.5"/><circle class="nu" cx="792" cy="165" r="4.5"/><circle class="nu" cx="792" cy="168" r="4.5"/><circle class="re" cx="813" cy="152" r="4.5"/><circle class="gi" cx="813" cy="140" r="4.5"/><circle class="ed" cx="821" cy="147" r="4.5"/>
<circle class="re" cx="787" cy="117" r="4.5"/><circle class="re" cx="787" cy="80" r="4.5"/><circle class="cv" cx="790" cy="99" r="4.5"/><circle class="cv" cx="795" cy="111" r="4.5"/><circle class="ed" cx="787" cy="83" r="4.5"/>
</g>
<g id="cluster-cancer-core">
<circle class="ca" cx="860" cy="156" r="4.5"/><circle class="ca" cx="868" cy="154" r="4.5"/><circle class="ca" cx="877" cy="156" r="4.5"/><circle class="ca" cx="863" cy="163" r="4.5"/><circle class="ca" cx="870" cy="167" r="4.5"/><circle class="ca" cx="877" cy="163" r="4.5"/><circle class="mp" cx="883" cy="173" r="4.5"/><circle class="ca" cx="847" cy="163" r="4.5"/><circle class="ca" cx="845" cy="173" r="4.5"/><circle class="ca" cx="858" cy="173" r="4.5"/><circle class="ca" cx="828" cy="173" r="4.5"/><circle class="ca" cx="832" cy="177" r="4.5"/><circle class="ca" cx="838" cy="180" r="4.5"/><circle class="ca" cx="902" cy="143" r="4.5"/><circle class="ca" cx="903" cy="160" r="4.5"/><circle class="ca" cx="910" cy="162" r="4.5"/><circle class="ca" cx="917" cy="173" r="4.5"/><circle class="mp" cx="923" cy="150" r="4.5"/><circle class="ca" cx="930" cy="145" r="4.5"/><circle class="mp" cx="935" cy="143" r="4.5"/><circle class="ca" cx="933" cy="154" r="4.5"/><circle class="ca" cx="925" cy="160" r="4.5"/><circle class="ca" cx="937" cy="163" r="4.5"/><circle class="ca" cx="943" cy="162" r="4.5"/><circle class="ca" cx="955" cy="167" r="4.5"/><circle class="ca" cx="952" cy="172" r="4.5"/><circle class="ca" cx="890" cy="180" r="4.5"/><circle class="ca" cx="895" cy="173" r="4.5"/>
<circle class="ca" cx="848" cy="188" r="4.5"/><circle class="ca" cx="862" cy="190" r="4.5"/><circle class="ca" cx="865" cy="192" r="4.5"/><circle class="ca" cx="873" cy="202" r="4.5"/><circle class="ca" cx="883" cy="207" r="4.5"/><circle class="ca" cx="892" cy="199" r="4.5"/><circle class="ca" cx="907" cy="198" r="4.5"/><circle class="ca" cx="917" cy="198" r="4.5"/><circle class="ca" cx="912" cy="207" r="4.5"/><circle class="ca" cx="855" cy="215" r="4.5"/><circle class="ca" cx="867" cy="210" r="4.5"/><circle class="ca" cx="867" cy="219" r="4.5"/><circle class="ca" cx="873" cy="217" r="4.5"/><circle class="ca" cx="902" cy="220" r="4.5"/><circle class="ca" cx="853" cy="223" r="4.5"/><circle class="ca" cx="903" cy="243" r="4.5"/><circle class="ca" cx="913" cy="231" r="4.5"/><circle class="ca" cx="927" cy="242" r="4.5"/><circle class="ca" cx="929" cy="224" r="4.5"/><circle class="ca" cx="932" cy="216" r="4.5"/><circle class="ca" cx="935" cy="192" r="4.5"/><circle class="ca" cx="870" cy="233" r="4.5"/><circle class="ca" cx="880" cy="233" r="4.5"/><circle class="ca" cx="875" cy="238" r="4.5"/><circle class="ca" cx="875" cy="243" r="4.5"/><circle class="ca" cx="882" cy="241" r="4.5"/><circle class="ca" cx="848" cy="203" r="4.5"/><circle class="ca" cx="827" cy="205" r="4.5"/><circle class="ca" cx="827" cy="211" r="4.5"/><circle class="ca" cx="813" cy="207" r="4.5"/><circle class="ca" cx="799" cy="211" r="4.5"/><circle class="ca" cx="792" cy="207" r="4.5"/><circle class="ca" cx="800" cy="227" r="4.5"/><circle class="ca" cx="800" cy="235" r="4.5"/><circle class="ca" cx="810" cy="234" r="4.5"/><circle class="ca" cx="798" cy="245" r="4.5"/><circle class="ca" cx="798" cy="255" r="4.5"/><circle class="ca" cx="805" cy="253" r="4.5"/><circle class="ca" cx="803" cy="259" r="4.5"/><circle class="ca" cx="832" cy="235" r="4.5"/><circle class="ca" cx="843" cy="225" r="4.5"/><circle class="ca" cx="835" cy="249" r="4.5"/>
<circle class="im" cx="898" cy="205" r="4.5"/><circle class="im" cx="898" cy="232" r="4.5"/><circle class="im" cx="802" cy="205" r="4.5"/><circle class="im" cx="927" cy="219" r="4.5"/><circle class="mp" cx="915" cy="185" r="4.5"/><circle class="mp" cx="853" cy="232" r="4.5"/><circle class="mp" cx="863" cy="232" r="4.5"/><circle class="mp" cx="812" cy="187" r="4.5"/><circle class="dv" cx="801" cy="190" r="4.5"/><circle class="he" cx="787" cy="211" r="4.5"/><circle class="re" cx="943" cy="201" r="4.5"/><circle class="re" cx="950" cy="197" r="4.5"/><circle class="mp" cx="953" cy="202" r="4.5"/><circle class="mp" cx="948" cy="207" r="4.5"/><circle class="mp" cx="938" cy="192" r="4.5"/><circle class="rs" cx="818" cy="228" r="4.5"/><circle class="ct" cx="838" cy="228" r="4.5"/><circle class="he" cx="782" cy="227" r="4.5"/><circle class="he" cx="789" cy="233" r="4.5"/><circle class="mu" cx="933" cy="242" r="4.5"/><circle class="he" cx="926" cy="236" r="4.5"/>
</g>
<g id="cluster-skeletal-hub">
<circle class="sk" cx="863" cy="268" r="4.5"/><circle class="sk" cx="842" cy="243" r="4.5"/><circle class="sk" cx="850" cy="246" r="4.5"/><circle class="sk" cx="846" cy="252" r="4.5"/><circle class="sk" cx="838" cy="257" r="4.5"/><circle class="sk" cx="885" cy="281" r="4.5"/><circle class="sk" cx="892" cy="287" r="4.5"/><circle class="sk" cx="908" cy="276" r="4.5"/><circle class="sk" cx="918" cy="280" r="4.5"/><circle class="mp" cx="888" cy="264" r="4.5"/><circle class="mp" cx="893" cy="274" r="4.5"/><circle class="mp" cx="881" cy="290" r="4.5"/><circle class="dv" cx="884" cy="270" r="4.5"/><circle class="ct" cx="897" cy="267" r="4.5"/>
<circle class="ne" cx="848" cy="292" r="4.5"/><circle class="ne" cx="846" cy="301" r="4.5"/><circle class="ne" cx="853" cy="309" r="4.5"/><circle class="ne" cx="848" cy="315" r="4.5"/><circle class="ne" cx="858" cy="314" r="4.5"/><circle class="ps" cx="859" cy="306" r="4.5"/><circle class="me" cx="817" cy="271" r="4.5"/><circle class="ne" cx="828" cy="290" r="4.5"/><circle class="ne" cx="823" cy="297" r="4.5"/><circle class="ne" cx="827" cy="299" r="4.5"/><circle class="ne" cx="819" cy="305" r="4.5"/><circle class="me" cx="816" cy="313" r="4.5"/><circle class="he" cx="821" cy="313" r="4.5"/>
</g>
<g id="cluster-lower-middle">
<circle class="ne" cx="772" cy="257" r="4.5"/><circle class="ed" cx="773" cy="264" r="4.5"/><circle class="re" cx="782" cy="270" r="4.5"/><circle class="ne" cx="786" cy="280" r="4.5"/><circle class="mu" cx="779" cy="283" r="4.5"/><circle class="mu" cx="778" cy="286" r="4.5"/><circle class="mu" cx="785" cy="290" r="4.5"/><circle class="mu" cx="792" cy="283" r="4.5"/>
<circle class="de" cx="752" cy="270" r="4.5"/><circle class="de" cx="748" cy="273" r="4.5"/><circle class="de" cx="753" cy="274" r="4.5"/><circle class="de" cx="745" cy="286" r="4.5"/><circle class="mp" cx="746" cy="286" r="4.5"/><circle class="mp" cx="750" cy="299" r="4.5"/><circle class="de" cx="749" cy="306" r="4.5"/><circle class="cv" cx="738" cy="305" r="4.5"/><circle class="cv" cx="727" cy="318" r="4.5"/><circle class="ca" cx="720" cy="332" r="4.5"/><circle class="ed" cx="707" cy="337" r="4.5"/><circle class="ed" cx="714" cy="340" r="4.5"/><circle class="ed" cx="708" cy="345" r="4.5"/><circle class="bo" cx="722" cy="344" r="4.5"/><circle class="mp" cx="714" cy="348" r="4.5"/>
<circle class="de" cx="758" cy="313" r="4.5"/><circle class="de" cx="763" cy="322" r="4.5"/><circle class="de" cx="772" cy="322" r="4.5"/><circle class="de" cx="765" cy="330" r="4.5"/><circle class="de" cx="763" cy="337" r="4.5"/><circle class="de" cx="776" cy="334" r="4.5"/><circle class="de" cx="770" cy="343" r="4.5"/><circle class="de" cx="778" cy="347" r="4.5"/><circle class="me" cx="782" cy="333" r="4.5"/><circle class="de" cx="779" cy="345" r="4.5"/><circle class="de" cx="783" cy="344" r="4.5"/>
<circle class="me" cx="739" cy="214" r="4.5"/><circle class="mu" cx="721" cy="212" r="4.5"/><circle class="mu" cx="723" cy="218" r="4.5"/><circle class="mu" cx="736" cy="208" r="4.5"/><circle class="cv" cx="745" cy="203" r="4.5"/><circle class="mp" cx="748" cy="206" r="4.5"/><circle class="mu" cx="728" cy="232" r="4.5"/><circle class="me" cx="722" cy="236" r="4.5"/><circle class="me" cx="739" cy="229" r="4.5"/><circle class="mu" cx="746" cy="227" r="4.5"/><circle class="mu" cx="733" cy="242" r="4.5"/><circle class="mu" cx="744" cy="242" r="4.5"/><circle class="mu" cx="750" cy="243" r="4.5"/><circle class="mu" cx="759" cy="245" r="4.5"/><circle class="mp" cx="743" cy="248" r="4.5"/>
<circle class="op" cx="703" cy="205" r="4.5"/><circle class="op" cx="700" cy="213" r="4.5"/><circle class="me" cx="702" cy="203" r="4.5"/><circle class="cv" cx="688" cy="186" r="4.5"/><circle class="sk" cx="697" cy="187" r="4.5"/><circle class="cv" cx="696" cy="182" r="4.5"/><circle class="cv" cx="678" cy="197" r="4.5"/><circle class="mp" cx="667" cy="201" r="4.5"/><circle class="cv" cx="657" cy="199" r="4.5"/><circle class="cv" cx="642" cy="197" r="4.5"/><circle class="cv" cx="638" cy="202" r="4.5"/><circle class="cv" cx="642" cy="207" r="4.5"/>
<circle class="me" cx="719" cy="260" r="4.5"/><circle class="me" cx="728" cy="256" r="4.5"/><circle class="me" cx="735" cy="259" r="4.5"/><circle class="mp" cx="723" cy="265" r="4.5"/><circle class="mp" cx="728" cy="267" r="4.5"/><circle class="ne" cx="728" cy="259" r="4.5"/>
</g>
<g id="cluster-lower-left">
<circle class="op" cx="669" cy="258" r="4.5"/><circle class="op" cx="660" cy="235" r="4.5"/><circle class="op" cx="673" cy="233" r="4.5"/><circle class="sk" cx="683" cy="234" r="4.5"/><circle class="op" cx="677" cy="226" r="4.5"/><circle class="op" cx="676" cy="242" r="4.5"/><circle class="op" cx="683" cy="243" r="4.5"/><circle class="op" cx="689" cy="246" r="4.5"/><circle class="op" cx="699" cy="246" r="4.5"/><circle class="dv" cx="693" cy="227" r="4.5"/><circle class="sk" cx="644" cy="231" r="4.5"/><circle class="dv" cx="636" cy="232" r="4.5"/><circle class="mp" cx="628" cy="235" r="4.5"/><circle class="ca" cx="619" cy="232" r="4.5"/><circle class="ca" cx="619" cy="235" r="4.5"/><circle class="cv" cx="612" cy="231" r="4.5"/><circle class="mp" cx="613" cy="228" r="4.5"/>
<circle class="ne" cx="699" cy="278" r="4.5"/><circle class="op" cx="694" cy="288" r="4.5"/><circle class="op" cx="701" cy="290" r="4.5"/><circle class="mp" cx="689" cy="295" r="4.5"/><circle class="op" cx="697" cy="298" r="4.5"/><circle class="op" cx="691" cy="303" r="4.5"/>
<circle class="ct" cx="624" cy="261" r="4.5"/><circle class="un" cx="616" cy="262" r="4.5"/><circle class="ct" cx="621" cy="269" r="4.5"/><circle class="ct" cx="608" cy="276" r="4.5"/><circle class="ct" cx="614" cy="280" r="4.5"/><circle class="bo" cx="623" cy="279" r="4.5"/><circle class="ct" cx="645" cy="273" r="4.5"/><circle class="ct" cx="658" cy="272" r="4.5"/><circle class="ct" cx="662" cy="277" r="4.5"/><circle class="cv" cx="668" cy="278" r="4.5"/><circle class="mp" cx="657" cy="282" r="4.5"/>
<circle class="bo" cx="622" cy="293" r="4.5"/><circle class="me" cx="616" cy="292" r="4.5"/><circle class="bo" cx="628" cy="303" r="4.5"/><circle class="un" cx="629" cy="308" r="4.5"/><circle class="bo" cx="619" cy="309" r="4.5"/><circle class="bo" cx="622" cy="317" r="4.5"/><circle class="bo" cx="630" cy="315" r="4.5"/><circle class="op" cx="644" cy="313" r="4.5"/><circle class="op" cx="656" cy="313" r="4.5"/><circle class="ne" cx="656" cy="317" r="4.5"/>
</g>
</g>
</svg>
